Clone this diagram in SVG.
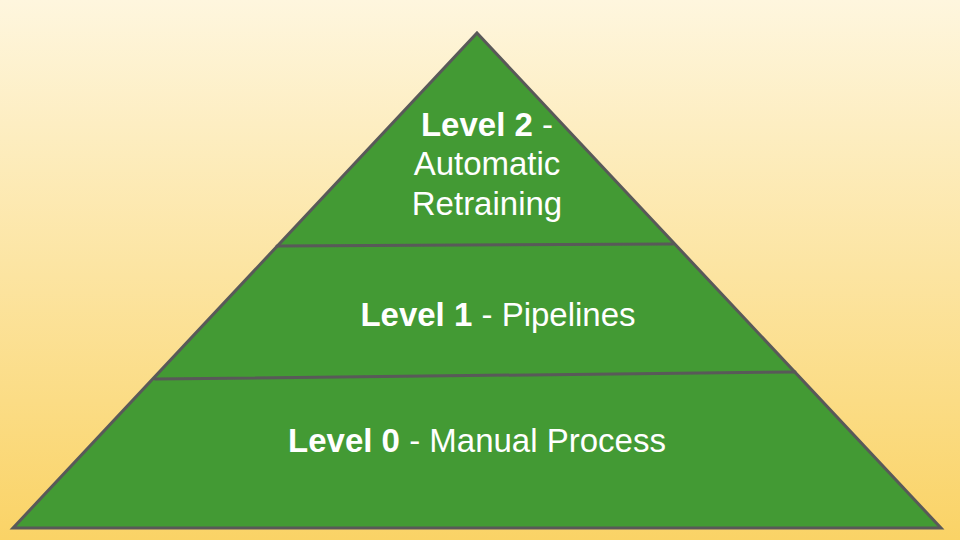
<svg xmlns="http://www.w3.org/2000/svg" width="960" height="540" viewBox="0 0 960 540">
<defs>
<linearGradient id="bg" x1="0" y1="0" x2="0" y2="1">
<stop offset="0" stop-color="#FEF6DE"/>
<stop offset="1" stop-color="#FAD366"/>
</linearGradient>
<style>
.t{font-family:"Liberation Sans",Arial,sans-serif;font-size:33px;fill:#ffffff;text-anchor:middle}
.b{font-weight:bold}
.ln{stroke:#595959;stroke-width:3;fill:none;stroke-linecap:round}
</style>
</defs>
<rect width="960" height="540" fill="url(#bg)"/>
<g id="pyramid">
<polygon points="477,33 941,528 13,528" fill="#439A34" stroke="#595959" stroke-width="3" stroke-linejoin="miter"/>
</g>
<g id="connectors">
<line class="ln" x1="277" y1="246" x2="673" y2="244"/>
<line class="ln" x1="155" y1="379" x2="795" y2="372"/>
</g>
<g id="level2">
<text class="t" x="487" y="136"><tspan class="b">Level 2</tspan> -</text>
<text class="t" x="487" y="175">Automatic</text>
<text class="t" x="487" y="215">Retraining</text>
</g>
<g id="level1">
<text class="t" x="498" y="326"><tspan class="b">Level 1</tspan> - Pipelines</text>
</g>
<g id="level0">
<text class="t" x="477" y="452"><tspan class="b">Level 0</tspan> - Manual Process</text>
</g>
</svg>
